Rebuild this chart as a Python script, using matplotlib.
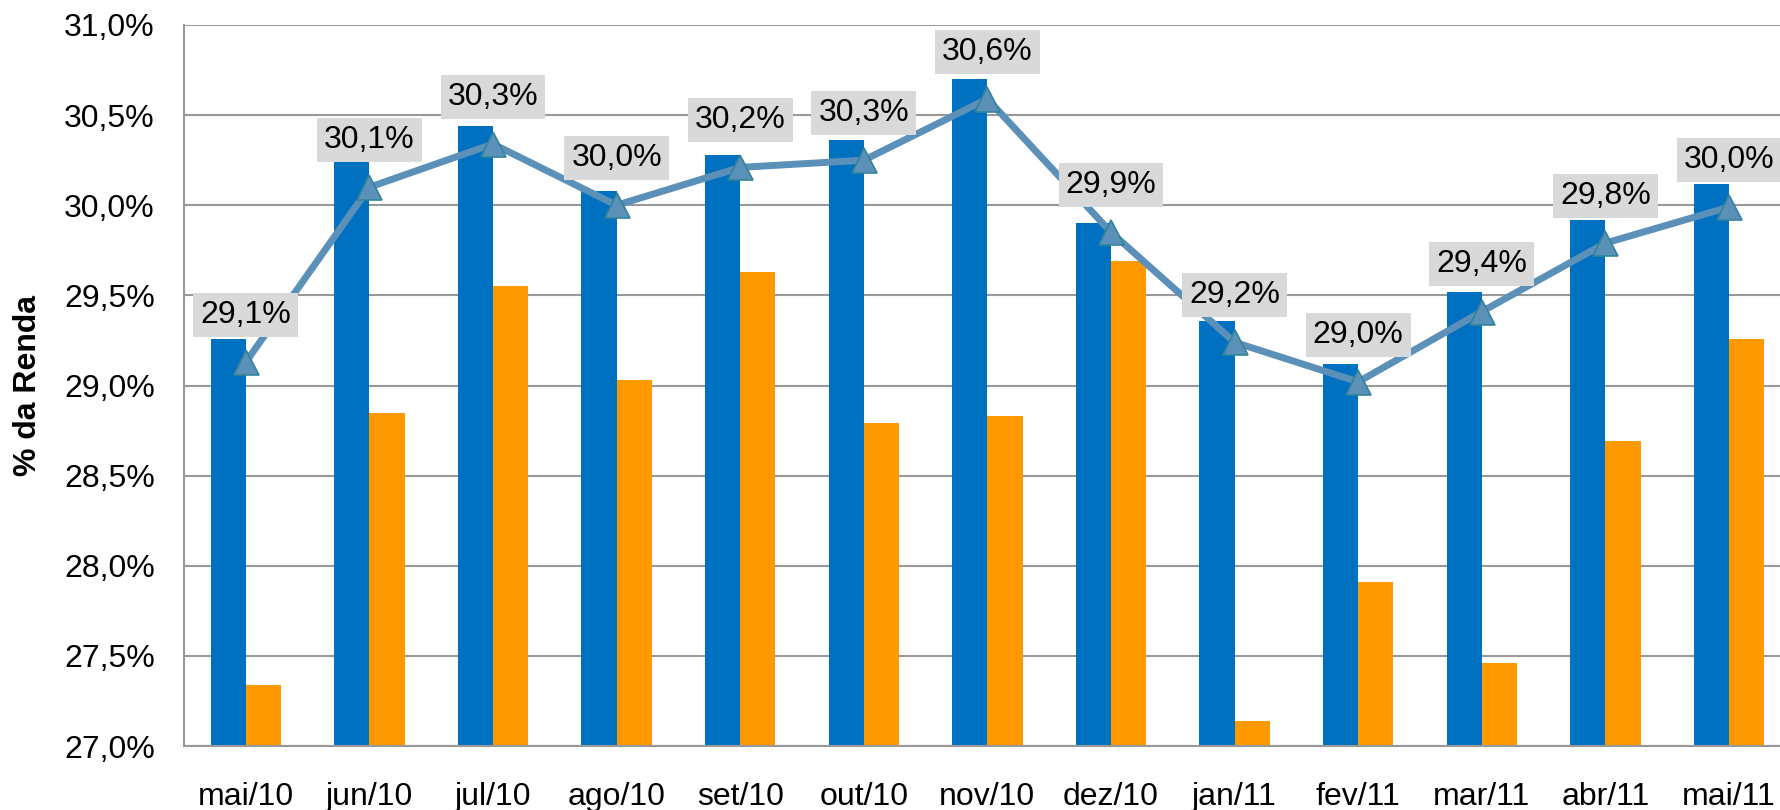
import matplotlib.pyplot as plt
import numpy as np
from matplotlib.ticker import FuncFormatter

plt.rcParams['font.family'] = ['Liberation Sans', 'DejaVu Sans']

# months and the three series (% da renda)
meses = ['mai/10', 'jun/10', 'jul/10', 'ago/10', 'set/10', 'out/10', 'nov/10',
         'dez/10', 'jan/11', 'fev/11', 'mar/11', 'abr/11', 'mai/11']
barra_azul = [29.26, 30.24, 30.44, 30.08, 30.28, 30.36, 30.70,
              29.90, 29.36, 29.12, 29.52, 29.92, 30.12]
barra_laranja = [27.34, 28.85, 29.55, 29.03, 29.63, 28.79, 28.83,
                 29.69, 27.14, 27.91, 27.46, 28.69, 29.26]
linha = [29.13, 30.10, 30.34, 30.00, 30.21, 30.25, 30.59,
         29.85, 29.24, 29.02, 29.41, 29.79, 29.99]
rotulos = ['29,1%', '30,1%', '30,3%', '30,0%', '30,2%', '30,3%', '30,6%',
           '29,9%', '29,2%', '29,0%', '29,4%', '29,8%', '30,0%']

x = np.arange(len(meses))
w = 0.285
fs = 23

fig = plt.figure(figsize=(17.81, 8.10), dpi=100)
ax = fig.add_axes([184 / 1781, 64 / 810, 1 - 184 / 1781, 721 / 810])

ax.bar(x - w / 2, np.array(barra_azul) - 27, w, bottom=27, color='#0070C0', zorder=2)
ax.bar(x + w / 2, np.array(barra_laranja) - 27, w, bottom=27, color='#FF9900', zorder=2)
ax.plot(x, linha, color='#5B90B8', lw=5, marker='^', ms=18,
        markerfacecolor='#5B90B8', markeredgecolor='#31849B', markeredgewidth=1.2, zorder=3)

for xi, yi, t in zip(x, linha, rotulos):
    ax.annotate(t, (xi, yi), xytext=(0, 34), textcoords='offset points',
                ha='center', va='center', fontsize=fs, zorder=4, annotation_clip=False,
                bbox=dict(boxstyle='square,pad=0.22', fc='#D9D9D9', ec='none'))

ax.set_ylim(27, 31)
ax.set_xlim(-0.5, 12 + (1781 - 1729) / 123.6)
ax.set_yticks(np.arange(27, 31.01, 0.5))
ax.yaxis.set_major_formatter(FuncFormatter(lambda v, p: f'{v:.1f}%'.replace('.', ',')))
ax.set_xticks(x)
ax.set_xticklabels(meses)
ax.tick_params(axis='both', length=0, labelsize=fs)
ax.tick_params(axis='y', pad=21)
ax.tick_params(axis='x', pad=26)
ax.grid(axis='y', color='#999999', lw=1.5, zorder=0)
for s in ['top', 'right']:
    ax.spines[s].set_visible(False)
for s in ['left', 'bottom']:
    ax.spines[s].set_color('#999999')
    ax.spines[s].set_linewidth(1.5)

fig.text(28 / 1781, 1 - 385 / 810, '% da Renda', rotation=90, ha='center', va='center',
         fontsize=fs, fontweight='bold')

fig.savefig('out.png', dpi=100)
